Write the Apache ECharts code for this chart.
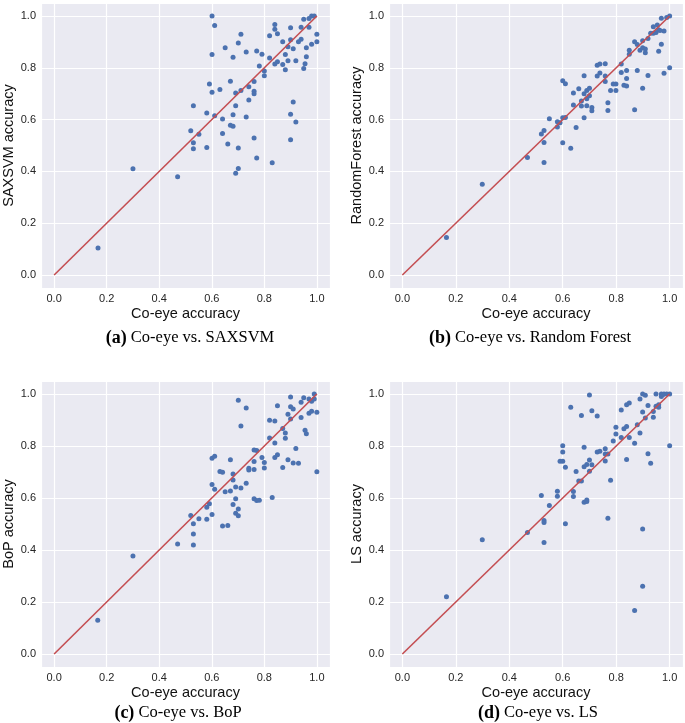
<!DOCTYPE html>
<html>
<head>
<meta charset="utf-8">
<script src="https://cdn.jsdelivr.net/npm/echarts@6/dist/echarts.min.js"></script>
<style>
html,body{margin:0;padding:0;background:#fff;}
#chart{width:685px;height:723px;}
</style>
</head>
<body>
<div id="chart"></div>
<script>
// Panel (a): Co-eye vs SAXSVM
const coeyeA = [0.167,0.300,0.470,0.520,0.530,0.530,0.530,0.551,0.581,0.581,0.591,0.601,0.601,0.601,0.611,0.611,0.631,0.641,0.641,0.651,0.661,0.671,0.671,0.681,0.681,0.681,0.691,0.691,0.691,0.701,0.701,0.701,0.711,0.711,0.731,0.731,0.741,0.741,0.761,0.761,0.761,0.761,0.771,0.771,0.781,0.791,0.800,0.800,0.820,0.820,0.830,0.840,0.840,0.840,0.850,0.850,0.870,0.870,0.880,0.880,0.890,0.890,0.900,0.900,0.900,0.900,0.910,0.910,0.920,0.920,0.930,0.940,0.940,0.950,0.950,0.960,0.960,0.955,0.970,0.970,0.980,0.990,0.980,1.000,1.000];
const saxsvm = [0.104,0.410,0.379,0.557,0.653,0.511,0.487,0.543,0.625,0.492,0.737,1.000,0.851,0.706,0.963,0.615,0.716,0.602,0.546,0.877,0.506,0.748,0.578,0.574,0.841,0.619,0.703,0.653,0.393,0.896,0.490,0.411,0.929,0.712,0.861,0.610,0.727,0.676,0.747,0.709,0.700,0.529,0.865,0.452,0.807,0.852,0.788,0.769,0.924,0.838,0.433,0.967,0.949,0.815,0.931,0.823,0.900,0.813,0.851,0.792,0.881,0.827,0.954,0.908,0.621,0.522,0.873,0.668,0.827,0.591,0.900,0.910,0.956,0.987,0.797,0.877,0.843,0.816,0.990,0.956,1.000,1.000,0.891,0.929,0.900];

// Panel (b): Co-eye vs Random Forest
const coeyeB = [0.165,0.299,0.468,0.520,0.530,0.530,0.530,0.550,0.580,0.580,0.590,0.600,0.600,0.600,0.610,0.610,0.630,0.640,0.640,0.650,0.660,0.670,0.670,0.680,0.680,0.680,0.690,0.690,0.690,0.700,0.700,0.709,0.709,0.729,0.729,0.739,0.739,0.759,0.759,0.759,0.769,0.769,0.779,0.789,0.799,0.799,0.819,0.819,0.829,0.839,0.839,0.839,0.849,0.849,0.869,0.869,0.879,0.879,0.889,0.899,0.899,0.899,0.909,0.909,0.919,0.919,0.929,0.939,0.939,0.949,0.959,0.954,0.959,0.969,0.969,0.979,0.979,0.989,1.000,1.000,0.964];
const randomForest = [0.145,0.350,0.454,0.544,0.558,0.512,0.434,0.603,0.592,0.571,0.588,0.750,0.607,0.511,0.738,0.608,0.489,0.703,0.656,0.569,0.719,0.672,0.652,0.769,0.700,0.607,0.712,0.680,0.653,0.721,0.692,0.647,0.634,0.810,0.768,0.815,0.780,0.816,0.768,0.747,0.665,0.635,0.712,0.737,0.737,0.712,0.815,0.782,0.733,0.789,0.759,0.730,0.868,0.852,0.900,0.638,0.890,0.789,0.868,0.904,0.877,0.721,0.872,0.858,0.913,0.770,0.933,0.933,0.958,0.936,0.947,0.965,0.864,0.991,0.891,0.942,0.779,0.994,1.000,0.800,0.944];

// Panel (c): Co-eye vs BoP
const coeyeC = [0.166,0.300,0.470,0.520,0.530,0.530,0.530,0.551,0.581,0.581,0.591,0.601,0.601,0.601,0.611,0.611,0.631,0.641,0.641,0.651,0.661,0.671,0.671,0.681,0.681,0.681,0.691,0.691,0.691,0.701,0.701,0.701,0.711,0.711,0.731,0.731,0.741,0.741,0.761,0.761,0.761,0.761,0.771,0.771,0.781,0.791,0.800,0.800,0.820,0.820,0.830,0.840,0.840,0.840,0.850,0.850,0.870,0.870,0.880,0.880,0.890,0.890,0.900,0.900,0.900,0.910,0.910,0.920,0.930,0.940,0.940,0.950,0.955,0.960,0.970,0.970,0.980,0.980,0.990,1.000,1.000,0.990];
const bop = [0.130,0.377,0.423,0.533,0.501,0.462,0.419,0.520,0.564,0.518,0.578,0.753,0.652,0.537,0.761,0.634,0.702,0.699,0.492,0.624,0.494,0.747,0.627,0.692,0.669,0.575,0.642,0.597,0.541,0.976,0.558,0.532,0.877,0.638,0.946,0.657,0.714,0.708,0.785,0.740,0.710,0.597,0.783,0.590,0.591,0.756,0.737,0.715,0.899,0.831,0.602,0.896,0.812,0.756,0.955,0.766,0.867,0.717,0.850,0.830,0.922,0.747,0.988,0.951,0.904,0.942,0.735,0.790,0.734,0.968,0.910,0.986,0.861,0.847,0.981,0.926,0.972,0.934,1.000,0.930,0.701,0.981];

// Panel (d): Co-eye vs LS
const coeyeD = [0.165,0.299,0.468,0.520,0.530,0.530,0.530,0.550,0.580,0.580,0.590,0.600,0.600,0.600,0.610,0.610,0.630,0.640,0.640,0.650,0.660,0.670,0.670,0.680,0.680,0.680,0.690,0.690,0.690,0.700,0.700,0.700,0.709,0.709,0.729,0.729,0.739,0.759,0.759,0.759,0.769,0.769,0.779,0.789,0.799,0.799,0.819,0.819,0.829,0.839,0.839,0.839,0.849,0.849,0.869,0.869,0.879,0.889,0.889,0.899,0.899,0.899,0.899,0.909,0.909,0.919,0.919,0.929,0.939,0.939,0.949,0.949,0.959,0.959,0.969,0.969,0.979,0.989,1.000,1.000,0.974];
const ls = [0.220,0.439,0.467,0.610,0.513,0.506,0.429,0.571,0.626,0.607,0.741,0.801,0.777,0.741,0.718,0.501,0.949,0.625,0.606,0.702,0.665,0.917,0.665,0.795,0.720,0.584,0.729,0.592,0.587,0.996,0.746,0.703,0.936,0.728,0.915,0.777,0.780,0.789,0.769,0.742,0.769,0.522,0.668,0.819,0.872,0.846,0.938,0.833,0.866,0.959,0.875,0.748,0.965,0.833,0.811,0.167,0.882,0.981,0.850,1.000,0.931,0.481,0.261,0.995,0.908,0.956,0.770,0.734,0.933,0.911,1.000,0.953,0.959,0.949,1.000,0.990,1.000,1.000,1.000,0.801,0.997];

const diagonal = [[0, 0], [1, 1]];
const yNames = ['SAXSVM accuracy', 'RandomForest accuracy', 'BoP accuracy', 'LS accuracy'];
const xName = 'Co-eye accuracy';
const captions = [
  ['(a)', ' Co-eye vs. SAXSVM'],
  ['(b)', ' Co-eye vs. Random Forest'],
  ['(c)', ' Co-eye vs. BoP'],
  ['(d)', ' Co-eye vs. LS']
];
const panels = [[coeyeA, saxsvm], [coeyeB, randomForest], [coeyeC, bop], [coeyeD, ls]];

const grids = [
  {left: 36, top: 3, width: 294, height: 285},
  {left: 389, top: 3, width: 294, height: 285},
  {left: 36, top: 381, width: 294, height: 286},
  {left: 389, top: 381, width: 294, height: 286}
];
const captionPos = [[190, 338], [530, 338], [178, 713], [538, 713]];

const labelStyle = {color: '#262626', fontSize: 11, fontFamily: 'Liberation Sans, Arial, sans-serif'};
const nameStyle = {color: '#111', fontSize: 14.5, fontFamily: 'Liberation Sans, Arial, sans-serif'};

function mkAxis(i, isX) {
  return {
    type: 'value', gridIndex: i, min: -0.05, max: 1.05, splitNumber: 5,
    name: isX ? xName : yNames[i], nameLocation: 'middle',
    nameGap: isX ? 18 : 25,
    nameTextStyle: nameStyle,
    axisLine: {show: false, onZero: false},
    axisTick: {show: false},
    axisLabel: Object.assign({
      margin: 5, showMinLabel: false, showMaxLabel: false,
      formatter: function (v) {
        const r = Math.round(v * 10) / 10;
        if (Math.abs(r - v) > 1e-6) return '';
        return r.toFixed(1);
      }
    }, labelStyle),
    splitLine: {show: true, lineStyle: {color: '#ffffff', width: 1.2}}
  };
}

const option = {
  backgroundColor: '#ffffff',
  animation: false,
  grid: grids.map(g => Object.assign({show: true, backgroundColor: '#EAEAF2', borderWidth: 0, containLabel: false}, g)),
  xAxis: grids.map((g, i) => mkAxis(i, true)),
  yAxis: grids.map((g, i) => mkAxis(i, false)),
  series: [],
  graphic: captions.map((c, i) => ({
    type: 'text', x: captionPos[i][0], y: captionPos[i][1],
    style: {
      text: '{b|' + c[0] + '}{n|' + c[1] + '}',
      align: 'center', verticalAlign: 'middle',
      rich: {
        b: {fontWeight: 'bold', fontSize: 18, fontFamily: 'Liberation Serif, Times New Roman, serif', fill: '#000'},
        n: {fontSize: 16.5, fontFamily: 'Liberation Serif, Times New Roman, serif', fill: '#000'}
      }
    }
  }))
};

panels.forEach((p, i) => {
  option.series.push({
    type: 'scatter', xAxisIndex: i, yAxisIndex: i,
    data: p[0].map((x, k) => [x, p[1][k]]),
    symbolSize: 5, itemStyle: {color: '#4C72B0', opacity: 1}, z: 2
  });
  option.series.push({
    type: 'line', xAxisIndex: i, yAxisIndex: i, data: diagonal,
    showSymbol: false, symbol: 'none', lineStyle: {color: '#C44E52', width: 1.6}, z: 3
  });
});

const chart = echarts.init(document.getElementById('chart'), null, {renderer: 'canvas'});
chart.setOption(option);
</script>
</body>
</html>
